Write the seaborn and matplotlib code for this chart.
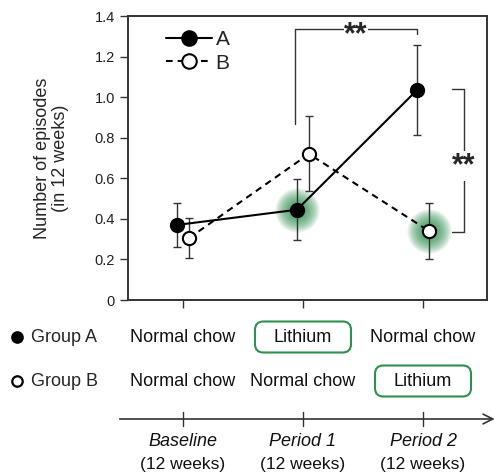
import numpy as np
import pandas as pd
import matplotlib.pyplot as plt
import seaborn as sns
from matplotlib.patches import FancyBboxPatch

periods = ['Baseline', 'Period 1', 'Period 2']
period_sub = ['(12 weeks)', '(12 weeks)', '(12 weeks)']
a_mean = [0.37, 0.445, 1.035]
a_err = [0.11, 0.15, 0.22]
b_mean = [0.305, 0.72, 0.34]
b_err = [0.10, 0.185, 0.14]
diet_a = ['Normal chow', 'Lithium', 'Normal chow']
diet_b = ['Normal chow', 'Normal chow', 'Lithium']
yticks = [0, 0.2, 0.4, 0.6, 0.8, 1.0, 1.2, 1.4]

sns.set_style('white')
plt.rcParams['font.family'] = ['Liberation Sans', 'DejaVu Sans']

green = '#2f8f4e'
dark = '#333333'

df = pd.DataFrame({
    'idx': list(range(3)) * 2,
    'mean': a_mean + b_mean,
    'err': a_err + b_err,
    'group': ['A'] * 3 + ['B'] * 3,
})
offset = {'A': -0.05, 'B': 0.05}
df['x'] = df['idx'] + df['group'].map(offset)

fig = plt.figure(figsize=(4.94, 4.75), dpi=100)
W, H = 494, 475
ax = fig.add_axes([128 / W, 1 - 300 / H, (487 - 128) / W, (300 - 16) / H])

xlim = (-0.458, 2.533)

# green glow around lithium points
glow_pts = [('A', 1), ('B', 2)]
for g, i in glow_pts:
    row = df[(df['group'] == g) & (df['idx'] == i)].iloc[0]
    for d in np.linspace(32, 6, 22):
        ax.scatter(row['x'], row['mean'], s=d ** 2, color=green, alpha=0.07,
                   linewidths=0, zorder=1)

for g, ls, fc in [('A', '-', 'black'), ('B', (0, (3.2, 2.4)), 'white')]:
    sub = df[df['group'] == g]
    ax.errorbar(sub['x'], sub['mean'], yerr=sub['err'], fmt='none', ecolor=dark,
                elinewidth=1, capsize=3, capthick=1, zorder=2)
    sns.lineplot(x=sub['x'].values, y=sub['mean'].values, ax=ax, color='black',
                 linestyle=ls, linewidth=1.5, marker='o', markersize=9.5,
                 markerfacecolor=fc, markeredgecolor='black', markeredgewidth=1.5,
                 label=g, zorder=3, errorbar=None)

ax.set_xlim(*xlim)
ax.set_ylim(0, 1.4)
ax.set_xticks([0, 1, 2])
ax.set_xticklabels([])
ax.set_yticks(yticks)
ax.set_yticklabels(['0' if v == 0 else f'{v:.1f}' for v in yticks], fontsize=10.5, color='#222222')
ax.tick_params(axis='both', direction='out', length=6, width=1, color=dark, left=True, bottom=True)
for s in ax.spines.values():
    s.set_color(dark)
    s.set_linewidth(1.4)
ax.set_ylabel('Number of episodes\n(in 12 weeks)', fontsize=13, linespacing=1.1, labelpad=18)
ax.set_xlabel('')

leg = ax.legend(loc='upper left', bbox_to_anchor=(0.055, 1.015), frameon=False, fontsize=15,
                handlelength=2.2, handletextpad=0.15, labelspacing=0.2, markerscale=1.1)

# significance brackets
star_kw = dict(ha='center', va='center', fontsize=22, fontweight='bold',
               textcoords='offset points', xytext=(0, -4.5),
               bbox=dict(fc='white', ec='none', pad=0), zorder=3)
ax.plot([0.933, 0.933, 1.95, 1.95], [0.87, 1.336, 1.336, 1.31], color=dark, lw=1, zorder=2)
ax.annotate('**', xy=(1.44, 1.336), **star_kw)
ax.plot([2.242, 2.342, 2.342, 2.242], [1.04, 1.04, 0.335, 0.335], color=dark, lw=1, zorder=2)
ax.annotate('**', xy=(2.342, 0.69), **star_kw)

# bottom schedule panel
ax2 = fig.add_axes([128 / W, 0, (487 - 128) / W, 165 / H])
ax2.set_xlim(*xlim)
ax2.set_ylim(165, 0)
ax2.axis('off')

rows = [(27, diet_a, 'black', 'Group A'), (71, diet_b, 'white', 'Group B')]
for y, diets, fc, name in rows:
    ax2.plot([-1.383], [y], marker='o', markersize=7.5, markerfacecolor=fc,
             markeredgecolor='black', markeredgewidth=1.6, clip_on=False)
    ax2.text(-1.27, y, name, ha='left', va='center', fontsize=13, clip_on=False)
    for i, d in enumerate(diets):
        ax2.text(i, y, d, ha='center', va='center', fontsize=13, color='#111111')
        if d == 'Lithium':
            box = FancyBboxPatch((i - 0.40, y - 15.5), 0.80, 31,
                                 boxstyle='round,pad=0,rounding_size=0.07',
                                 mutation_aspect=120, fc='none', ec=green, lw=1.5)
            ax2.add_patch(box)

ax2.annotate('', xy=(2.62, 109), xytext=(-0.55, 109), annotation_clip=False,
             arrowprops=dict(arrowstyle='->,head_length=0.7,head_width=0.35', lw=1.2, color=dark))
for i in range(3):
    ax2.plot([i, i], [102, 116], color=dark, lw=1)
    ax2.text(i, 132, periods[i], ha='center', va='center', fontsize=13, style='italic', color='#111111')
    ax2.text(i, 154, period_sub[i], ha='center', va='center', fontsize=12.5, color='#111111')

fig.savefig('out.png', dpi=100)
